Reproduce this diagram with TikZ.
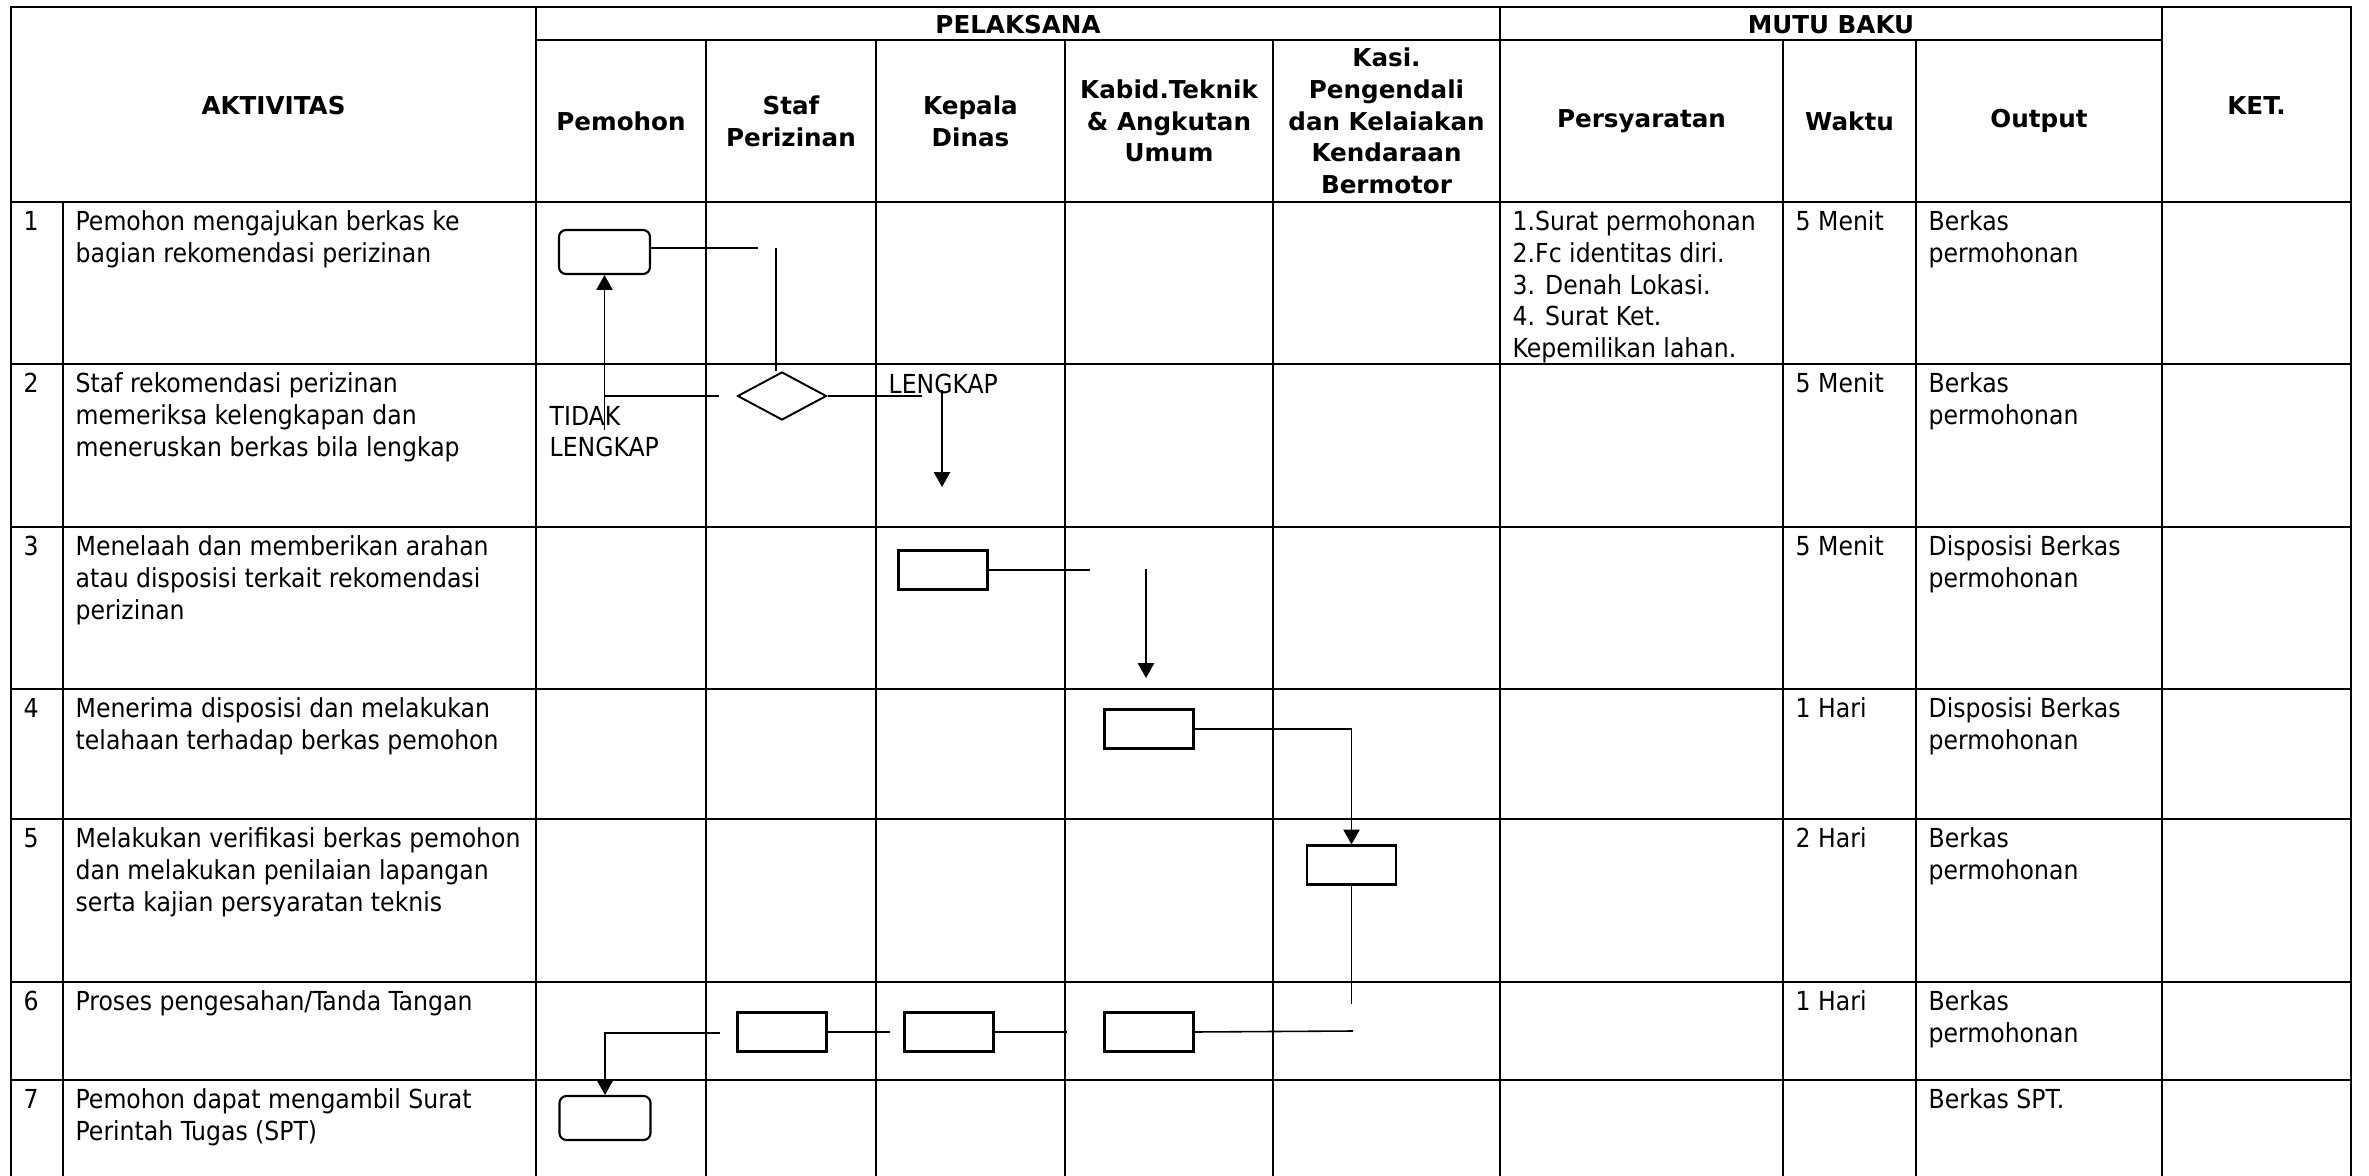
\documentclass[tikz,border=0pt]{standalone}
\usepackage{fontspec}
\setmainfont{DejaVu Sans Condensed}
\newfontfamily\headfont{DejaVu Sans}
\usetikzlibrary{arrows.meta,shapes.geometric}

\begin{document}
\begin{tikzpicture}[x=0.01cm,y=-0.01cm,>={Triangle[width=4.6pt,length=4.2pt]},
    grid/.style={line width=0.57pt},
    flow/.style={line width=0.45pt},
    txt/.style={anchor=north west,yshift=5.6pt,inner sep=0pt,align=left,font=\fontsize{7.45pt}{9pt}\selectfont},
    head/.style={align=center,inner sep=0pt,font=\fontsize{7pt}{9pt}\headfont\bfseries},
    start box/.style={draw,rounded corners=2pt,line width=0.6pt,minimum width=0.91cm,minimum height=0.44cm,inner sep=0pt},
    proc box/.style={draw,line width=0.6pt,minimum width=0.89cm,minimum height=0.39cm,inner sep=0pt},
    decision/.style={draw,diamond,line width=0.55pt,minimum width=0.89cm,minimum height=0.48cm,inner sep=0pt}]

  \useasboundingbox (0,0) rectangle (2369,1176);

  % table frame and rules
  \draw[grid] (11,1176) -- (11,7) -- (2351,7) -- (2351,1176);
  \draw[grid] (536,7) -- (536,1176) (1500,7) -- (1500,1176) (2162,7) -- (2162,1176);
  \draw[grid] (536,40) -- (2162,40);
  \draw[grid] (706,40) -- (706,1176) (876,40) -- (876,1176) (1065,40) -- (1065,1176)
              (1273,40) -- (1273,1176) (1783,40) -- (1783,1176) (1916,40) -- (1916,1176);
  \draw[grid] (63,202) -- (63,1176);
  \draw[grid] (11,202) -- (2351,202) (11,364) -- (2351,364) (11,527) -- (2351,527)
              (11,689) -- (2351,689) (11,819) -- (2351,819) (11,982) -- (2351,982)
              (11,1080) -- (2351,1080);

  % header
  \node[head] (hAkt)  at (273.5,106) {AKTIVITAS};
  \node[head] (hPel)  at (1018,25)   {PELAKSANA};
  \node[head] (hMutu) at (1831,25)   {MUTU BAKU};
  \node[head] (hKet)  at (2256.5,106) {KET.};
  \node[head] (hPem)  at (621,121)   {Pemohon};
  \node[head] (hStaf) at (791,121)   {Staf\\Perizinan};
  \node[head] (hKadis) at (970.5,121) {Kepala\\Dinas};
  \node[head] (hKabid) at (1169,121) {Kabid.Teknik\\\& Angkutan\\Umum};
  \node[head] (hKasi) at (1386.5,121) {Kasi.\\Pengendali\\dan Kelaiakan\\Kendaraan\\Bermotor};
  \node[head] (hSyarat) at (1641.5,121) {Persyaratan};
  \node[head] (hWaktu) at (1849.5,121) {Waktu};
  \node[head] (hOut)  at (2039,121)  {Output};

  % rows (coordinates are first baselines)
  \node[txt] (n1) at (23,230) {1};
  \node[txt] (a1) at (75,230) {Pemohon mengajukan berkas ke\\bagian rekomendasi perizinan};
  \node[txt] (s1) at (1512,230) {1.Surat permohonan\\2.Fc identitas diri.\\3. Denah Lokasi.\\4. Surat Ket.\\Kepemilikan lahan.};
  \node[txt] (w1) at (1795,230) {5 Menit};
  \node[txt] (o1) at (1928,230) {Berkas\\permohonan};

  \node[txt] (n2) at (23,392) {2};
  \node[txt] (a2) at (75,392) {Staf rekomendasi perizinan\\memeriksa kelengkapan dan\\meneruskan berkas bila lengkap};
  \node[txt] (w2) at (1795,392) {5 Menit};
  \node[txt] (o2) at (1928,392) {Berkas\\permohonan};

  \node[txt] (n3) at (23,555) {3};
  \node[txt] (a3) at (75,555) {Menelaah dan memberikan arahan\\atau disposisi terkait rekomendasi\\perizinan};
  \node[txt] (w3) at (1795,555) {5 Menit};
  \node[txt] (o3) at (1928,555) {Disposisi Berkas\\permohonan};

  \node[txt] (n4) at (23,717) {4};
  \node[txt] (a4) at (75,717) {Menerima disposisi dan melakukan\\telahaan terhadap berkas pemohon};
  \node[txt] (w4) at (1795,717) {1 Hari};
  \node[txt] (o4) at (1928,717) {Disposisi Berkas\\permohonan};

  \node[txt] (n5) at (23,847) {5};
  \node[txt] (a5) at (75,847) {Melakukan verifikasi berkas pemohon\\dan melakukan penilaian lapangan\\serta kajian persyaratan teknis};
  \node[txt] (w5) at (1795,847) {2 Hari};
  \node[txt] (o5) at (1928,847) {Berkas\\permohonan};

  \node[txt] (n6) at (23,1010) {6};
  \node[txt] (a6) at (75,1010) {Proses pengesahan/Tanda Tangan};
  \node[txt] (w6) at (1795,1010) {1 Hari};
  \node[txt] (o6) at (1928,1010) {Berkas\\permohonan};

  \node[txt] (n7) at (23,1108) {7};
  \node[txt] (a7) at (75,1108) {Pemohon dapat mengambil Surat\\Perintah Tugas (SPT)};
  \node[txt] (o7) at (1928,1108) {Berkas SPT.};

  % flow symbols
  \node[start box] (mulai)    at (604.5,252) {};
  \node[decision]  (cek)      at (782,396)   {};
  \node[proc box]  (kadis)    at (943,570)   {};
  \node[proc box]  (kabid)    at (1149,729)  {};
  \node[proc box]  (kasi)     at (1351.5,865) {};
  \node[proc box]  (ttdkabid) at (1149,1032) {};
  \node[proc box]  (ttdkadis) at (949,1032)  {};
  \node[proc box]  (ttdstaf)  at (782,1032)  {};
  \node[start box] (selesai)  at (605,1118)  {};

  \node[txt] (tidak)   at (549,425) {TIDAK\\LENGKAP};
  \node[txt] (lengkap) at (888,393) {LENGKAP};

  \coordinate (c1) at (758,248);
  \coordinate (c2) at (776,248);
  \coordinate (c3) at (719,396);
  \coordinate (c4) at (604.5,430);
  \coordinate (c5) at (922,396);
  \coordinate (c6) at (942,390);
  \coordinate (c7) at (942,487);
  \coordinate (c8) at (1090,570);
  \coordinate (c9) at (1146,569);
  \coordinate (c10) at (1146,678);
  \coordinate (c11) at (1351.5,1004);
  \coordinate (c12) at (1353,1031);
  \coordinate (c13) at (1067,1032);
  \coordinate (c14) at (890,1032);
  \coordinate (c15) at (720,1033);

  \path[flow] (c1 -| mulai.east) edge (c1)
        (c2) edge (c2 |- cek.north)
        (c3) edge (c3 -| mulai.south)
        (c4) edge[->] (mulai.south)
        (cek.east) edge (c5)
        (c6) edge[->] (c7)
        (kadis.east) edge (c8)
        (c9) edge[->] (c10)
        (kasi.south) edge (c11)
        (c12) edge (ttdkabid.east)
        (ttdkadis.east) edge (c13)
        (ttdstaf.east) edge (c14);
  \draw[flow,->] (kabid.east) -| (kasi.north);
  \draw[flow,->] (c15) -| (selesai.north);
\end{tikzpicture}
\end{document}
